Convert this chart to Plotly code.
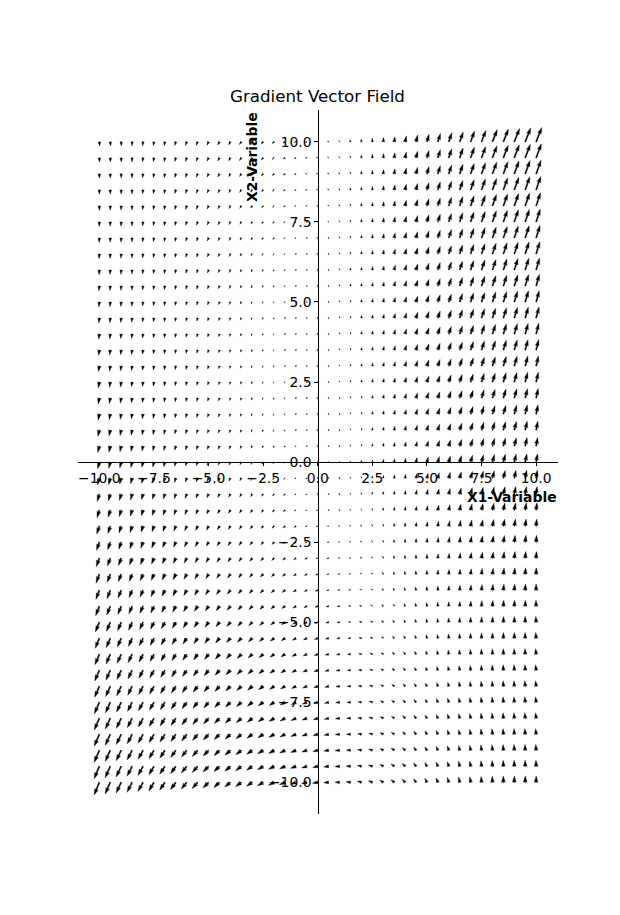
import numpy as np
import plotly.graph_objects as go

# ---------------- data ----------------
x1_grid = np.arange(-10, 10.5, 0.5)
x2_grid = np.arange(-10, 10.5, 0.5)

# gradient components (screen px, right / up) at anchor nodes
anchor_cols = [-10, -7.5, -5, -2.5, 0, 2.5, 5, 7.5, 10]
anchor_rows = [10, 5, 0, -5, -10]
anchor_u = [[0.0, -0.2, -0.8, -1.8, -4.0, 1.2, 3.2, 4.2, 5.0],
            [-0.3, -0.3, -0.5, -1.0, -2.8, 0.8, 2.8, 3.2, 3.5],
            [-2.0, -1.5, -1.2, -0.5, 0.0, 0.3, 0.7, 1.0, 1.5],
            [-3.8, -3.7, -3.8, -3.5, -2.8, -1.5, -1.2, -0.4, 0.3],
            [-5.0, -5.0, -6.0, -6.0, -5.5, -3.0, -2.2, -0.8, 0.0]]
anchor_v = [[-4.7, -3.8, -2.2, -1.3, -2.2, 3.0, 9.0, 12.0, 13.5],
            [-5.2, -4.2, -2.6, -1.0, -1.5, 2.5, 8.0, 10.0, 11.5],
            [-6.5, -5.0, -3.2, -1.2, 0.0, 2.5, 5.0, 6.5, 7.5],
            [-9.5, -7.5, -6.0, -3.0, -0.3, 1.0, 3.0, 4.8, 7.0],
            [-12.0, -9.5, -6.0, -3.0, 0.0, 1.5, 4.0, 5.2, 6.5]]

tick_vals = [-10, -7.5, -5, -2.5, 0, 2.5, 5, 7.5, 10]
tick_text = ["\u221210.0", "\u22127.5", "\u22125.0", "\u22122.5", "0.0",
             "2.5", "5.0", "7.5", "10.0"]

# ---------------- smooth field through the anchors ----------------
def terms(x, y):
    return np.stack([np.ones_like(x), x, y, x * x, x * y, y * y,
                     x ** 3, x * x * y, x * y * y, y ** 3,
                     x ** 4, x ** 3 * y, x * x * y * y, x * y ** 3, y ** 4], axis=-1)

AX, AY = np.meshgrid(np.array(anchor_cols, float), np.array(anchor_rows, float))
A = terms(AX.ravel(), AY.ravel())
cu, *_ = np.linalg.lstsq(A, np.array(anchor_u, float).ravel(), rcond=None)
cv, *_ = np.linalg.lstsq(A, np.array(anchor_v, float).ravel(), rcond=None)
X, Y = np.meshgrid(x1_grid, x2_grid)
T = terms(X, Y)
U = T @ cu
V = T @ cv

# ---------------- geometry ----------------
W, H = 620, 915
ax_l, ax_r = 77.5, 558.0
ax_t, ax_b = 109.8, 814.35
xr = [-11, 11]
yr = [-11, 11]
kx = (ax_r - ax_l) / (xr[1] - xr[0])
ky = (ax_b - ax_t) / (yr[1] - yr[0])
wpx = 1.25  # shaft width in px

hl, hal, hw, minsh, minlen = 5.0, 4.5, 3.0, 5.0, 1.0
px_list, py_list = [], []
for xi, yi, u, v in zip(X.ravel(), Y.ravel(), U.ravel(), V.ravel()):
    L = np.hypot(u, v) / wpx
    th = np.arctan2(v, u)
    if L < minlen:
        t = np.arange(0, 8) * np.pi / 3
        ex = np.cos(t) * minlen * 0.5
        ey = np.sin(t) * minlen * 0.5
    elif L < minsh:
        s = L / minsh
        ex = s * np.array([0, minsh - hal, minsh - hl, minsh, minsh - hl, minsh - hal, 0, 0])
        ey = s * np.array([0.5, 0.5, hw / 2, 0, -hw / 2, -0.5, -0.5, 0.5])
    else:
        ex = np.array([0, L - hal, L - hl, L, L - hl, L - hal, 0, 0])
        ey = np.array([0.5, 0.5, hw / 2, 0, -hw / 2, -0.5, -0.5, 0.5])
    c, s_ = np.cos(th), np.sin(th)
    rx = (ex * c - ey * s_) * wpx
    ry = (ex * s_ + ey * c) * wpx
    px_list.extend(list(xi + rx / kx) + [None])
    py_list.extend(list(yi + ry / ky) + [None])

fig = go.Figure()
fig.add_trace(go.Scatter(x=px_list, y=py_list, mode="lines", fill="toself",
                         fillcolor="black", line=dict(width=0.35, color="black"),
                         hoverinfo="skip", showlegend=False))

font = "DejaVu Sans"
axis_common = dict(showline=True, linecolor="black", linewidth=0.8,
                   ticks="outside", ticklen=3.5, tickwidth=0.8, tickcolor="black",
                   showgrid=False, zeroline=False, tickvals=tick_vals, ticktext=tick_text,
                   tickfont=dict(family=font, size=13.9, color="black"),
                   anchor="free", fixedrange=True)
fig.update_layout(
    width=W, height=H, margin=dict(l=0, r=0, t=0, b=0),
    paper_bgcolor="white", plot_bgcolor="white", showlegend=False,
    xaxis=dict(domain=[ax_l / W, ax_r / W], range=xr,
               position=1 - (ax_t + ax_b) / 2 / H, **axis_common),
    yaxis=dict(domain=[1 - ax_b / H, 1 - ax_t / H], range=yr,
               position=(ax_l + (0 - xr[0]) * kx) / W, **axis_common),
    annotations=[
        dict(text="Gradient Vector Field", x=(ax_l + ax_r) / 2 / W, y=1 - 96 / H,
             xref="paper", yref="paper", xanchor="center", yanchor="middle",
             showarrow=False, font=dict(family=font, size=16.7, color="black")),
        dict(text="<b>X1-Variable</b>", x=(ax_r + 1) / W, y=1 - 497 / H,
             xref="paper", yref="paper", xanchor="right", yanchor="middle",
             showarrow=False, font=dict(family=font, size=13.9, color="black")),
        dict(text="<b>X2-Variable</b>", x=252 / W, y=1 - 110 / H, textangle=-90,
             xref="paper", yref="paper", xanchor="center", yanchor="top",
             showarrow=False, font=dict(family=font, size=13.9, color="black")),
    ],
)
fig.write_html("out.html")
